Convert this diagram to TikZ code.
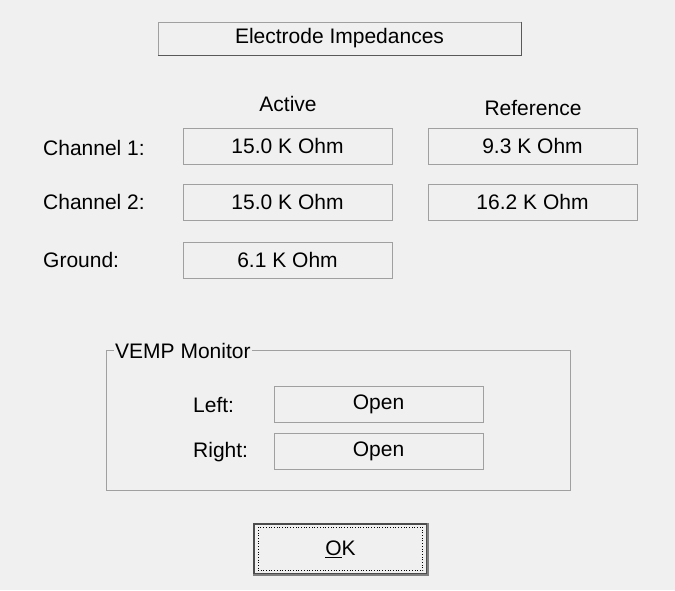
\documentclass[tikz,border=0pt]{standalone}
\usepackage{fontspec}
\setmainfont{Liberation Sans}
\definecolor{bg}{HTML}{F0F0F0}
\definecolor{edge}{HTML}{A0A0A0}
\begin{document}
\begin{tikzpicture}[x=1pt,y=-1pt,
  txt/.style={font=\fontsize{21}{24}\selectfont, inner sep=0pt},
  field/.style={draw=edge, line width=1pt, fill=bg, font=\fontsize{21}{24}\selectfont, minimum width=209pt, minimum height=36pt, inner sep=0pt}]
\fill[bg] (0,0) rectangle (675,590);
\useasboundingbox (0,0) rectangle (675,590);
% title button
\node[draw=edge, line width=1pt, fill=bg, minimum width=363pt, minimum height=33pt, inner sep=0pt, font=\fontsize{21}{24}\selectfont] (title) at (339.5,38.5) {Electrode Impedances};
\draw[line width=1.5pt, black!65] (title.north east) -- (title.south east) -- (title.south west);
\node[txt] (act) at (288,104) {Active};
\node[txt] (ref) at (533,108) {Reference};
\node[txt, anchor=west] (c1) at (43,148) {Channel 1:};
\node[txt, anchor=west] (c2) at (43,202) {Channel 2:};
\node[txt, anchor=west] (gr) at (43,260) {Ground:};
\node[field] (c1a) at (287.5,146) {15.0 K Ohm};
\node[field] (c1r) at (532.5,146) {9.3 K Ohm};
\node[field] (c2a) at (287.5,202) {15.0 K Ohm};
\node[field] (c2r) at (532.5,202) {16.2 K Ohm};
\node[field] (gra) at (287.5,260) {6.1 K Ohm};
% group
\draw[edge, line width=1pt] (106,350) rectangle (570,490);
\node[txt, anchor=west, fill=bg, inner xsep=1pt] (vemp) at (114,351) {VEMP Monitor};
\node[txt, anchor=west] (lt) at (193,405) {Left:};
\node[txt, anchor=west] (rt) at (193,452) {Right:};
\node[field] (lf) at (378.5,404.5) {Open};
\node[field] (rf) at (378.5,451.5) {Open};
% OK button
\node[draw=black!70, line width=1.5pt, fill=bg, minimum width=173pt, minimum height=50pt, inner sep=0pt, font=\fontsize{21}{24}\selectfont] (ok) at (340.5,549) {\underline{O}K};
\draw[black, dotted, line width=0.7pt] ([shift={(5,4)}]ok.north west) rectangle ([shift={(-5,-4)}]ok.south east);
\draw[line width=1.5pt, black!50] (ok.north east) -- (ok.south east) -- (ok.south west);
\end{tikzpicture}
\end{document}
